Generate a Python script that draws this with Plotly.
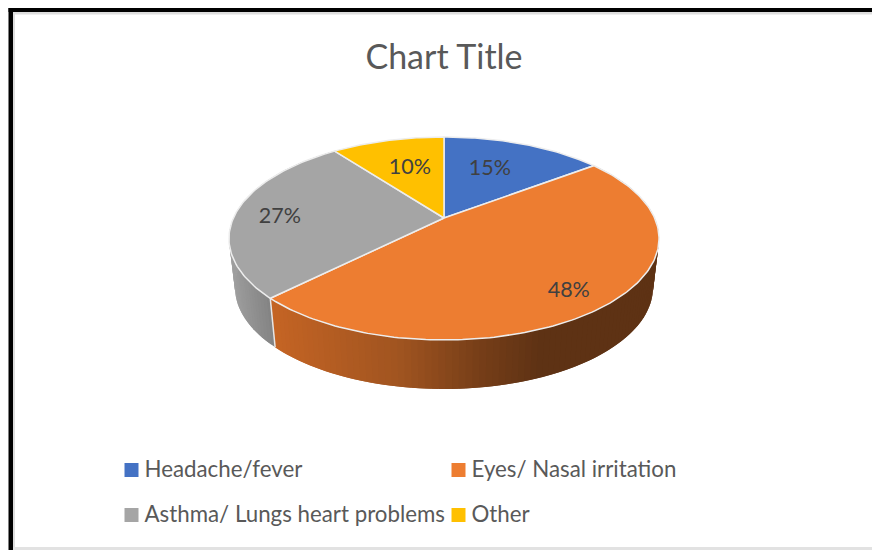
import math
import plotly.graph_objects as go

categories = ["Headache/fever", "Eyes/ Nasal irritation", "Asthma/ Lungs heart problems", "Other"]
values = [14.7, 47.8, 27.2, 10.3]
colors = ["#4472C4", "#ED7D31", "#A5A5A5", "#FFC000"]
title_text = "Chart Title"

W, H = 872, 550
CX, CY = 444, 218
R, K, B = 210.6, 0.202, -53.3
DEPTH, BOTTOM_SCALE = 49, 0.972
LABEL_R = [0.6, 0.81, 0.78, 0.6]
LABEL_DX = [-5, -3, -2, 2]
LABEL_DY = [-1, 6, 5, 0]
FONT = "Lato, Carlito, Calibri, sans-serif"


def project(theta, r=1.0, bottom=False):
    u = r * math.sin(theta)
    v = r * math.cos(theta)
    d = 1 + K * v
    s = BOTTOM_SCALE if bottom else 1.0
    return CX + s * R * u / d, (CY + B * v) / d + (DEPTH if bottom else 0)


def lerp_color(stops, x):
    x = min(max(x, stops[0][0]), stops[-1][0])
    for (x0, c0), (x1, c1) in zip(stops, stops[1:]):
        if x <= x1:
            t = (x - x0) / (x1 - x0)
            return "rgb(%d,%d,%d)" % tuple(round(a + (b - a) * t) for a, b in zip(c0, c1))
    return "rgb(%d,%d,%d)" % stops[-1][1]


SIDE_STOPS = {
    1: [(275, (196, 100, 36)), (400, (160, 84, 32)), (480, (118, 62, 24)), (540, (94, 50, 20)), (660, (94, 50, 20))],
    2: [(230, (160, 160, 160)), (277, (128, 128, 128))],
}

fig = go.Figure()
total = sum(values)
cum = [0]
for val in values:
    cum.append(cum[-1] + val)
angles = [c / total * 2 * math.pi for c in cum]

# extruded side: overlapping thin bands so the shading follows the rim without seams
for i in (2, 1):
    a0, a1 = angles[i], angles[i + 1]
    n = max(10, int((a1 - a0) / math.radians(1.5)))
    step = (a1 - a0) / n
    for j in range(n):
        t0 = a0 + step * j
        t1 = min(a1, t0 + 2 * step)
        tm = t0 + step / 2
        p = [project(t0), project(t1), project(t1, bottom=True), project(t0, bottom=True)]
        xm = (project(tm)[0] + project(tm, bottom=True)[0]) / 2
        col = lerp_color(SIDE_STOPS[i], xm)
        fig.add_trace(go.Scatter(
            x=[q[0] for q in p] + [p[0][0]], y=[q[1] for q in p] + [p[0][1]],
            mode="lines", fill="toself", fillcolor=col, line=dict(width=0),
            hoverinfo="skip", showlegend=False))

# divider on the rim between the two visible side faces
p0, p1 = project(angles[2]), project(angles[2], bottom=True)
fig.add_trace(go.Scatter(x=[p0[0], p1[0]], y=[p0[1], p1[1]], mode="lines",
                         line=dict(color="#E6E6E6", width=1.5), hoverinfo="skip", showlegend=False))

# top face
for i, name in enumerate(categories):
    a0, a1 = angles[i], angles[i + 1]
    n = max(4, int((a1 - a0) / math.radians(1)))
    pts = [project(a0 + (a1 - a0) * j / n) for j in range(n + 1)]
    xs = [CX] + [q[0] for q in pts] + [CX]
    ys = [CY] + [q[1] for q in pts] + [CY]
    fig.add_trace(go.Scatter(x=xs, y=ys, mode="lines", fill="toself", fillcolor=colors[i],
                             line=dict(color="#EDEDED", width=1.5), name=name,
                             hoverinfo="name", showlegend=False))

# percentage labels
for i, val in enumerate(values):
    mid = (angles[i] + angles[i + 1]) / 2
    x, y = project(mid, LABEL_R[i])
    fig.add_trace(go.Scatter(x=[x + LABEL_DX[i]], y=[y + LABEL_DY[i]], mode="text",
                             text=[f"{round(val / total * 100)}%"],
                             textposition="middle center",
                             textfont=dict(family=FONT, size=21.5, color="#404040"),
                             hoverinfo="skip", showlegend=False))

# legend block
LEG_X = [131.5, 458.5, 131.5, 458.5]
LEG_Y = [470, 470, 515, 515]
LEG_TEXT_GAP = 13
LEG_TEXT_DY = 1
for i, name in enumerate(categories):
    fig.add_trace(go.Scatter(x=[LEG_X[i]], y=[LEG_Y[i]], mode="markers",
                             marker=dict(symbol="square", size=14, color=colors[i]),
                             hoverinfo="skip", showlegend=False))
    fig.add_trace(go.Scatter(x=[LEG_X[i] + LEG_TEXT_GAP], y=[LEG_Y[i] + LEG_TEXT_DY], mode="text", text=[name],
                             textposition="middle right",
                             textfont=dict(family=FONT, size=22.3, color="#595959"),
                             hoverinfo="skip", showlegend=False))

fig.update_layout(
    width=W, height=H, autosize=False,
    margin=dict(l=0, r=0, t=0, b=0),
    paper_bgcolor="white", plot_bgcolor="white",
    title=dict(text=title_text, x=444 / W, xanchor="center", y=1 - 57 / H, yanchor="middle",
               font=dict(family=FONT, size=34, color="#595959")),
    xaxis=dict(range=[0, W], visible=False, fixedrange=True),
    yaxis=dict(range=[H, 0], visible=False, fixedrange=True),
    showlegend=False,
    shapes=[
        dict(type="rect", layer="below", xref="x", yref="y", x0=13, x1=W, y0=12, y1=14.5,
             fillcolor="#DDDDDD", line_width=0),
        dict(type="rect", layer="below", xref="x", yref="y", x0=13, x1=15, y0=12, y1=H,
             fillcolor="#DDDDDD", line_width=0),
        dict(type="rect", layer="below", xref="x", yref="y", x0=13, x1=W, y0=547, y1=H,
             fillcolor="#E2E2E2", line_width=0),
        dict(type="rect", layer="below", xref="x", yref="y", x0=8.5, x1=W, y0=8, y1=12,
             fillcolor="#000000", line_width=0),
        dict(type="rect", layer="below", xref="x", yref="y", x0=8.5, x1=13, y0=8, y1=H,
             fillcolor="#000000", line_width=0),
    ],
)

fig.write_html("out.html", config=dict(displayModeBar=False),
               post_script="document.body.style.margin='0';document.documentElement.style.overflow='hidden';")
